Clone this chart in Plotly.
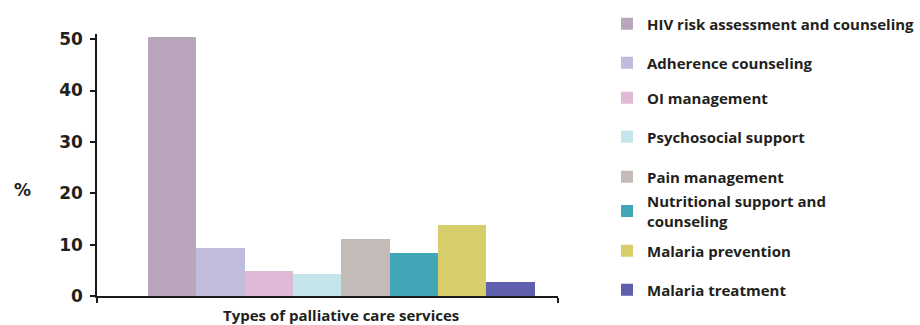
import plotly.graph_objects as go

categories = [
    "HIV risk assessment and counseling",
    "Adherence counseling",
    "OI management",
    "Psychosocial support",
    "Pain management",
    "Nutritional support and<br>counseling",
    "Malaria prevention",
    "Malaria treatment",
]
values = [50.4, 9.3, 4.9, 4.3, 11.1, 8.4, 13.8, 2.7]
colors = ["#B9A5BC", "#C0BCDC", "#DFBAD6", "#C4E5EC",
          "#C4BBB8", "#41A6B5", "#D8CD6B", "#5E5FAD"]
y_ticks = [0, 10, 20, 30, 40, 50]
x_title = "Types of palliative care services"
y_title = "%"

TXT = "#231F20"
L, R, T, B = 97, 362, 34, 29
W, H = 920, 325
plot_w = W - L - R
plot_h = H - T - B

legend_px_y = [24, 63, 98, 137, 177, 211, 251, 290]
legend_px_x = 607

fig = go.Figure()
layout_legends = {}
for i, (cat, v, c) in enumerate(zip(categories, values, colors)):
    lname = "legend" if i == 0 else f"legend{i+1}"
    fig.add_trace(go.Bar(
        x=[i], y=[v], width=1, name=cat, marker=dict(color=c, line=dict(width=0)),
        legend=lname, showlegend=True,
    ))
    layout_legends[lname] = dict(
        x=(legend_px_x - L) / plot_w, xanchor="left",
        y=(H - B - legend_px_y[i]) / plot_h, yanchor="middle",
        font=dict(family="Open Sans", size=15, color=TXT, weight="bold"),
        bgcolor="rgba(0,0,0,0)", borderwidth=0,
    )

xmin, xmax = -1.55, 7.98
fig.update_layout(
    width=W, height=H,
    margin=dict(l=L, r=R, t=T, b=B, pad=0, autoexpand=False),
    plot_bgcolor="white", paper_bgcolor="white",
    barmode="overlay", bargap=0,
    xaxis=dict(range=[xmin, xmax], showgrid=False, zeroline=False,
               showline=True, linecolor="#1a1a1a", linewidth=1.5,
               tickmode="array", tickvals=[xmin, xmax], ticktext=["", ""],
               ticks="outside", ticklen=5, tickwidth=1.5, tickcolor="#1a1a1a"),
    yaxis=dict(range=[0, 51], showgrid=False, zeroline=False,
               showline=True, linecolor="#1a1a1a", linewidth=1.5,
               tickmode="array", tickvals=y_ticks,
               ticks="outside", ticklen=5, tickwidth=1.5, tickcolor="#1a1a1a",
               ticklabelstandoff=4,
               tickfont=dict(family="DejaVu Sans", size=17, color=TXT, weight="bold")),
    annotations=[
        dict(text=x_title, xref="x", yref="paper", x=(len(values) - 1) / 2,
             xanchor="center",
             y=-(315 - (H - B)) / plot_h, yanchor="middle", showarrow=False,
             font=dict(family="Open Sans", size=15, color=TXT, weight="bold")),
        dict(text=y_title, xref="paper", yref="paper", x=(22 - L) / plot_w,
             xanchor="center",
             y=(H - B - 190) / plot_h, yanchor="middle", showarrow=False,
             font=dict(family="DejaVu Sans", size=17, color=TXT, weight="bold")),
    ],
    **layout_legends,
)

fig.write_html("out.html")
